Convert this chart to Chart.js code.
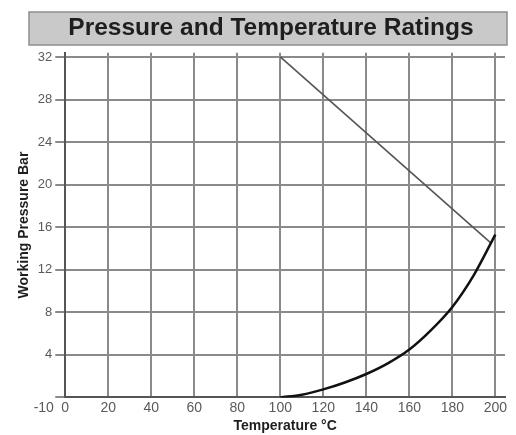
<!DOCTYPE html>
<html>
<head>
<meta charset="utf-8">
<title>Pressure and Temperature Ratings</title>
<script src="https://cdn.jsdelivr.net/npm/chart.js@4"></script>
<style>
    html, body { margin: 0; padding: 0; background: #ffffff; }
    canvas { display: block; }
</style>
</head>
<body>
<canvas id="pt-chart" width="516" height="435"></canvas>
<script>
// Ratings
var curveTemps = [100, 110, 120, 130, 140, 150, 160, 170, 180, 190, 200];
var curvePressure = [0, 0.25, 0.75, 1.4, 2.2, 3.2, 4.5, 6.3, 8.5, 11.5, 15.3];

var lineTemps = [100, 198];
var linePressure = [32, 14.5];

var xTicks = [-10, 0, 20, 40, 60, 80, 100, 120, 140, 160, 180, 200];
var yTicks = [0, 4, 8, 12, 16, 20, 24, 28, 32];

var FONT = "'Liberation Sans', Arial, sans-serif";

function toPoints(xs, ys) {
    return xs.map(function(x, i) {
        return { x: x, y: ys[i] };
    });
}

/**
 * Grey banner behind the chart title
 */
var titleBox = {
    id: 'titleBox',
    afterLayout: function(chart) {
        // centre the heading on the banner, not on the canvas
        if (chart.titleBlock) {
            chart.titleBlock.left = 35;
            chart.titleBlock.right = 507;
        }
    },
    beforeDraw: function(chart) {
        var ctx = chart.ctx;
        var top = chart.titleBlock ? chart.titleBlock.top : 12;
        ctx.save();
        ctx.fillStyle = '#ffffff';
        ctx.fillRect(0, 0, chart.width, chart.height);
        ctx.fillStyle = '#c9c9c9';
        ctx.fillRect(29, top, 478, 33);
        ctx.strokeStyle = '#8f8f8f';
        ctx.lineWidth = 1.5;
        ctx.strokeRect(29, top, 478, 33);
        ctx.restore();
    }
};

var gridColor = function(context) {
    if (context.tick && context.tick.value < 0) {
        return 'rgba(0,0,0,0)';
    }
    return '#8a8a8a';
};

new Chart(document.getElementById('pt-chart').getContext('2d'), {
    type: 'scatter',
    data: {
        datasets: [
            {
                label: 'Rating curve',
                data: toPoints(curveTemps, curvePressure),
                showLine: true,
                borderColor: '#111111',
                borderWidth: 2.5,
                pointRadius: 0,
                cubicInterpolationMode: 'monotone',
                fill: false
            },
            {
                label: 'Upper limit',
                data: toPoints(lineTemps, linePressure),
                showLine: true,
                borderColor: '#555555',
                borderWidth: 1.6,
                pointRadius: 0,
                fill: false
            }
        ]
    },
    options: {
        responsive: false,
        animation: false,
        devicePixelRatio: 1,
        layout: {
            padding: { top: 12, left: 14, right: 11, bottom: 0 }
        },
        plugins: {
            legend: { display: false },
            tooltip: { enabled: false },
            title: {
                display: true,
                text: 'Pressure and Temperature Ratings',
                color: '#1e1e1e',
                font: { family: FONT, size: 24.5, weight: 'bold' },
                padding: { top: 2, bottom: 9.3 }
            }
        },
        scales: {
            x: {
                type: 'linear',
                min: 0,
                max: 204.5,
                afterBuildTicks: function(scale) {
                    scale.ticks = xTicks.map(function(v) { return { value: v }; });
                },
                grid: {
                    color: gridColor,
                    lineWidth: 2,
                    drawTicks: false
                },
                border: { display: true, color: '#555555', width: 2 },
                ticks: {
                    autoSkip: false,
                    maxRotation: 0,
                    padding: 2,
                    color: '#5a5a5a',
                    font: { family: FONT, size: 14 }
                },
                title: {
                    display: true,
                    text: 'Temperature °C',
                    color: '#1e1e1e',
                    font: { family: FONT, size: 14, weight: 'bold' },
                    padding: { top: 0, bottom: 0 }
                }
            },
            y: {
                type: 'linear',
                min: 0,
                max: 32.4,
                afterBuildTicks: function(scale) {
                    scale.ticks = yTicks.map(function(v) { return { value: v }; });
                },
                grid: {
                    color: '#8a8a8a',
                    lineWidth: 2,
                    drawTicks: true,
                    tickLength: 10
                },
                border: { display: true, color: '#555555', width: 2 },
                ticks: {
                    autoSkip: false,
                    padding: 3,
                    color: '#5a5a5a',
                    font: { family: FONT, size: 13 },
                    callback: function(value) {
                        return value === 0 ? '' : value;
                    }
                },
                title: {
                    display: true,
                    text: 'Working Pressure Bar',
                    color: '#1e1e1e',
                    font: { family: FONT, size: 14, weight: 'bold' },
                    padding: { top: 2, bottom: 2 }
                }
            }
        }
    },
    plugins: [titleBox]
});
</script>
</body>
</html>
